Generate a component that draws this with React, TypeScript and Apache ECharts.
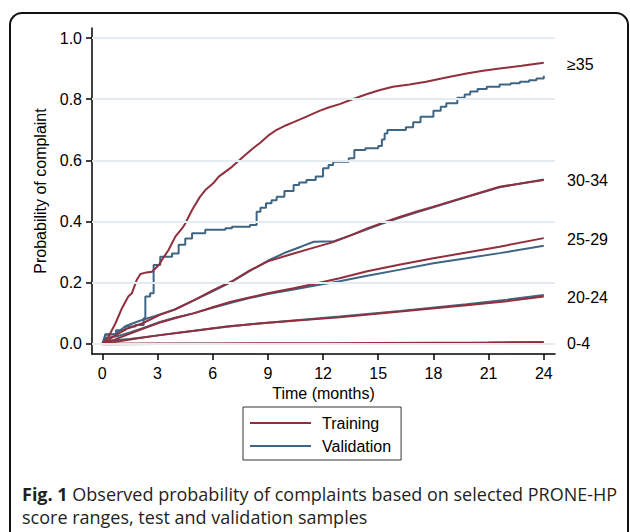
import React, { useEffect, useRef } from "react";
import * as echarts from "echarts";

// ---- data (time in months, cumulative probability) ----
const xTicks = [0, 3, 6, 9, 12, 15, 18, 21, 24];
const yTicks = [0, 0.2, 0.4, 0.6, 0.8, 1.0];

const groupLabels = ["\u226535", "30-34", "25-29", "20-24", "0-4"];

const train35 = [[0,0],[0.3,0.02],[0.71,0.067],[1.07,0.117],[1.41,0.155],[1.61,0.166],[1.87,0.209],[2.07,0.229],[2.4,0.234],[2.7,0.236],[3.07,0.258],[3.3,0.28],[3.6,0.307],[3.97,0.351],[4.4,0.383],[4.51,0.394],[4.88,0.438],[5.3,0.48],[5.6,0.503],[6.03,0.525],[6.33,0.547],[7.05,0.579],[7.66,0.612],[8.1,0.635],[8.57,0.657],[9.0,0.68],[9.48,0.7],[10.0,0.715],[10.4,0.725],[11.1,0.743],[11.8,0.762],[12.3,0.773],[12.9,0.784],[13.6,0.8],[14.4,0.817],[15.1,0.83],[15.8,0.841],[16.7,0.848],[17.6,0.857],[18.7,0.871],[19.8,0.884],[20.7,0.893],[21.6,0.9],[22.8,0.909],[24,0.919]];
const valid35 = [[0,0],[0.16,0.032],[0.75,0.045],[1.25,0.057],[1.8,0.062],[2.25,0.084],[2.34,0.155],[2.6,0.166],[2.79,0.258],[3.15,0.285],[3.79,0.296],[4.15,0.324],[4.51,0.345],[4.88,0.362],[5.6,0.373],[6.69,0.378],[7.05,0.383],[8.03,0.389],[8.39,0.432],[8.6,0.445],[8.9,0.46],[9.2,0.47],[9.48,0.481],[9.9,0.5],[10.4,0.52],[10.7,0.528],[11.1,0.536],[11.6,0.547],[12.0,0.574],[12.3,0.585],[12.55,0.596],[13.4,0.607],[13.7,0.634],[14.3,0.64],[15.0,0.647],[15.2,0.668],[15.35,0.688],[15.5,0.699],[16.5,0.708],[16.9,0.725],[17.3,0.743],[18.0,0.762],[18.4,0.775],[18.7,0.787],[19.3,0.805],[19.7,0.815],[20.0,0.825],[20.4,0.833],[20.9,0.841],[21.6,0.848],[22.2,0.852],[22.7,0.857],[23.2,0.862],[23.6,0.868],[24,0.877]];
const train30 = [[0,0],[0.5,0.02],[1.33,0.05],[2.16,0.067],[3.13,0.095],[3.97,0.113],[4.95,0.142],[6.0,0.175],[7.05,0.205],[8.0,0.24],[9.0,0.27],[10.4,0.296],[11.5,0.315],[12.5,0.332],[13.5,0.355],[14.4,0.378],[15.3,0.397],[16.2,0.416],[17.1,0.433],[18.0,0.449],[19.8,0.481],[21.6,0.514],[24,0.536]];
const valid30 = [[0,0],[0.16,0.03],[0.7,0.032],[1.25,0.058],[2.0,0.075],[2.88,0.092],[3.9,0.112],[4.88,0.14],[6.0,0.172],[7.05,0.204],[8.0,0.238],[9.0,0.272],[10.0,0.3],[10.8,0.318],[11.5,0.334],[12.6,0.336],[13.5,0.355],[14.4,0.375],[15.3,0.395],[16.2,0.413],[17.1,0.43],[18.0,0.447],[19.8,0.48],[21.6,0.512],[24,0.538]];
const train25 = [[0,0],[0.5,0.01],[1.33,0.03],[2.2,0.05],[3.13,0.07],[4.0,0.085],[4.95,0.1],[6.0,0.12],[7.0,0.138],[8.0,0.152],[9.0,0.166],[10.4,0.182],[11.5,0.196],[12.9,0.215],[14.4,0.238],[16.2,0.26],[18.0,0.28],[19.8,0.299],[21.6,0.318],[24,0.346]];
const valid25 = [[0,0],[0.16,0.02],[0.8,0.025],[1.5,0.038],[2.2,0.052],[3.13,0.072],[4.0,0.087],[4.95,0.1],[6.0,0.118],[7.0,0.135],[8.0,0.15],[9.0,0.163],[10.4,0.178],[11.5,0.19],[12.9,0.205],[14.4,0.223],[16.2,0.243],[18.0,0.264],[19.8,0.28],[21.6,0.297],[24,0.321]];
const train20 = [[0,0],[1.5,0.015],[3.13,0.029],[5.0,0.043],[6.76,0.057],[8.5,0.067],[10.4,0.076],[12.9,0.087],[16.2,0.106],[19.8,0.127],[22,0.14],[24,0.155]];
const valid20 = [[0,0],[0.16,0.01],[1.5,0.016],[3.13,0.029],[5.0,0.043],[6.76,0.056],[8.5,0.067],[10.4,0.077],[12.9,0.09],[16.2,0.108],[19.8,0.13],[22,0.145],[24,0.16]];
const train04 = [[0,0],[3,0.001],[6,0.001],[12,0.002],[18,0.003],[21,0.004],[24,0.006]];
const valid04 = [[0,0],[6,0.001],[12,0.001],[18,0.002],[21,0.004],[24,0.005]];

const RED = "#922f3d";
const BLUE = "#3e6584";
const FONT = "Liberation Sans, Arial, sans-serif";
const CAP_FONT = "Open Sans, sans-serif";

export default function App() {
  const ref = useRef<HTMLDivElement>(null);
  useEffect(() => {
    if (!ref.current) return;
    const chart = echarts.init(ref.current, null, { renderer: "svg" });

    const mk = (name: string, data: number[][], color: string, step?: any, width = 2) => ({
      type: "line",
      name,
      data,
      showSymbol: false,
      symbol: "none",
      step: step || false,
      z: name === "Training" ? 3 : 2,
      itemStyle: { color },
      lineStyle: { color, width },
      emphasis: { disabled: true },
    });

    const option: any = {
      animation: false,
      grid: { left: 92, right: 75, top: 28, bottom: 178, containLabel: false },
      xAxis: {
        type: "value",
        min: -0.56,
        max: 24.61,
        name: "Time (months)",
        nameLocation: "middle",
        nameGap: 30,
        nameTextStyle: { fontSize: 16, color: "#000", fontFamily: FONT },
        axisLine: { onZero: false, lineStyle: { color: "#000", width: 1.5 } },
        axisTick: { show: true, length: 6, customValues: xTicks, lineStyle: { color: "#000", width: 1.5 } },
        axisLabel: { customValues: xTicks, margin: 11, fontSize: 16, color: "#000", fontFamily: FONT },
        splitLine: { show: false },
      },
      yAxis: {
        type: "value",
        min: -0.0327,
        max: 1.0327,
        name: "Probability of complaint",
        nameLocation: "middle",
        nameGap: 44,
        nameTextStyle: { fontSize: 16, color: "#000", fontFamily: FONT },
        axisLine: { show: true, onZero: false, lineStyle: { color: "#000", width: 1.5 } },
        axisTick: { show: true, length: 6, customValues: yTicks, lineStyle: { color: "#000", width: 1.5 } },
        axisLabel: {
          customValues: yTicks,
          margin: 10,
          fontSize: 16,
          color: "#000",
          fontFamily: FONT,
          formatter: (v: number) => v.toFixed(1),
        },
        splitLine: { show: false },
      },
      legend: {
        data: ["Training", "Validation"],
        orient: "vertical",
        left: 243,
        top: 407,
        padding: [8, 10, 6, 7],
        itemGap: 7,
        itemWidth: 61,
        itemHeight: 2,
        icon: "rect",
        borderColor: "#333",
        borderWidth: 1,
        borderRadius: 0,
        selectedMode: false,
        textStyle: { fontSize: 16, color: "#000", fontFamily: FONT, padding: [0, 0, 0, 6] },
      },
      series: [
        {
          type: "line",
          name: "grid",
          data: [],
          z: 1,
          silent: true,
          markLine: {
            silent: true,
            symbol: ["none", "none"],
            label: { show: false },
            lineStyle: { color: "#e5ecf1", width: 2, type: "solid" },
            data: yTicks.map((v) => ({ yAxis: v })),
          },
        },
        mk("Validation", valid04, BLUE),
        mk("Validation", valid20, BLUE),
        mk("Validation", valid25, BLUE),
        mk("Validation", valid30, BLUE),
        mk("Validation", valid35, BLUE, "end"),
        mk("Training", train04, RED, false, 2.5),
        mk("Training", train25, RED),
        mk("Training", train30, RED),
        mk("Training", train35, RED),
        mk("Training", train20, RED),
      ],
      graphic: [
        {
          type: "rect",
          shape: { x: 10, y: 13, width: 618, height: 560, r: 12 },
          style: { fill: "none", stroke: "#111", lineWidth: 2 },
          silent: true,
        },
        ...[64, 180, 239.5, 297.5, 343.5].map((y, i) => ({
          type: "text",
          x: 567,
          y,
          style: {
            text: groupLabels[i],
            fontSize: 16,
            fontFamily: FONT,
            fill: "#000",
            verticalAlign: "middle",
            align: "left",
          },
        })),
        {
          type: "text",
          x: 22,
          y: 494,
          style: {
            text: "{b|Fig. 1} Observed probability of complaints based on selected PRONE-HP",
            fontSize: 18,
            fontFamily: CAP_FONT,
            fill: "#231f20",
            verticalAlign: "middle",
            rich: { b: { fontWeight: "bold", fontSize: 18, fontFamily: CAP_FONT, fill: "#231f20" } },
          },
        },
        {
          type: "text",
          x: 22,
          y: 517,
          style: {
            text: "score ranges, test and validation samples",
            fontSize: 18,
            fontFamily: CAP_FONT,
            fill: "#231f20",
            verticalAlign: "middle",
          },
        },
      ],
    };
    chart.setOption(option);
    return () => chart.dispose();
  }, []);
  return (
    <div
      ref={ref}
      style={{ position: "fixed", left: 0, top: 0, width: 630, height: 532, background: "#fff" }}
    />
  );
}
